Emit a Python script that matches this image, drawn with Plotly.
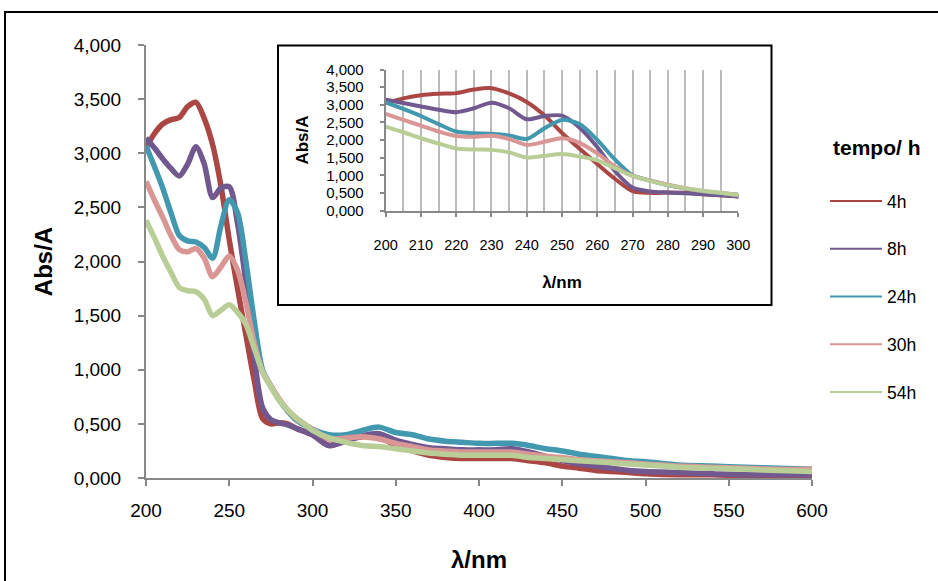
import plotly.graph_objects as go

# wavelengths (nm)
wavelength = [200, 205, 210, 215, 220, 225, 230, 235, 240, 245, 250, 255, 260, 265, 270,
              275, 280, 285, 290, 295, 300, 310, 320, 330, 340, 350, 360, 370, 380, 390,
              400, 410, 420, 430, 440, 450, 460, 470, 480, 490, 500, 520, 540, 560, 580, 600]

abs_4h = [3.05, 3.18, 3.27, 3.31, 3.33, 3.43, 3.47, 3.32, 3.08, 2.70, 2.20, 1.75, 1.32, 0.90, 0.55,
          0.50, 0.51, 0.50, 0.46, 0.43, 0.40, 0.30, 0.35, 0.38, 0.38, 0.30, 0.25, 0.21, 0.19, 0.18,
          0.18, 0.18, 0.18, 0.16, 0.14, 0.11, 0.09, 0.07, 0.06, 0.05, 0.04, 0.03, 0.03, 0.02, 0.02, 0.02]
abs_8h = [3.14, 3.05, 2.95, 2.86, 2.79, 2.90, 3.06, 2.90, 2.59, 2.68, 2.69, 2.35, 1.80, 1.12, 0.65,
          0.54, 0.51, 0.49, 0.46, 0.43, 0.40, 0.30, 0.34, 0.39, 0.41, 0.35, 0.31, 0.28, 0.27, 0.26,
          0.26, 0.26, 0.27, 0.24, 0.20, 0.16, 0.13, 0.11, 0.09, 0.07, 0.06, 0.05, 0.04, 0.03, 0.03, 0.03]
abs_24h = [3.07, 2.88, 2.68, 2.45, 2.24, 2.19, 2.18, 2.13, 2.03, 2.33, 2.57, 2.45, 2.00, 1.45, 1.00,
           0.85, 0.72, 0.62, 0.54, 0.49, 0.45, 0.40, 0.40, 0.44, 0.47, 0.42, 0.40, 0.36, 0.34, 0.33,
           0.32, 0.32, 0.32, 0.30, 0.27, 0.25, 0.22, 0.20, 0.18, 0.16, 0.15, 0.12, 0.11, 0.10, 0.09, 0.08]
abs_30h = [2.74, 2.57, 2.41, 2.24, 2.11, 2.09, 2.12, 2.03, 1.86, 1.95, 2.05, 1.92, 1.62, 1.25, 0.98,
           0.85, 0.73, 0.63, 0.55, 0.50, 0.45, 0.36, 0.37, 0.38, 0.36, 0.32, 0.29, 0.26, 0.25, 0.24,
           0.24, 0.24, 0.24, 0.22, 0.20, 0.19, 0.17, 0.16, 0.15, 0.14, 0.13, 0.11, 0.10, 0.09, 0.08, 0.08]
abs_54h = [2.38, 2.22, 2.05, 1.90, 1.76, 1.73, 1.72, 1.65, 1.50, 1.55, 1.60, 1.53, 1.42, 1.20, 0.98,
           0.84, 0.72, 0.63, 0.56, 0.50, 0.44, 0.37, 0.33, 0.30, 0.29, 0.27, 0.25, 0.23, 0.22, 0.21,
           0.21, 0.21, 0.21, 0.19, 0.18, 0.17, 0.16, 0.15, 0.14, 0.13, 0.12, 0.10, 0.09, 0.08, 0.07, 0.06]

series_names = ["4h", "8h", "24h", "30h", "54h"]
series_values = [abs_4h, abs_8h, abs_24h, abs_30h, abs_54h]
series_colors = ["#AA4643", "#71588F", "#4198AF", "#D99694", "#B9CD96"]

main_xticks = [200, 250, 300, 350, 400, 450, 500, 550, 600]
main_yticks = [0, 0.5, 1.0, 1.5, 2.0, 2.5, 3.0, 3.5, 4.0]
inset_xticks = [200, 210, 220, 230, 240, 250, 260, 270, 280, 290, 300]
legend_title = "<b>tempo/ h</b>"

FONT = "Liberation Sans, Arial, sans-serif"
W, H = 938, 581

fig = go.Figure()

# main traces
for name, vals, col in zip(series_names, series_values, series_colors):
    fig.add_trace(go.Scatter(x=wavelength, y=vals, mode="lines", name=name,
                             line=dict(color=col, width=5.5, shape="spline", smoothing=0.8),
                             showlegend=False, xaxis="x", yaxis="y"))
# inset traces
for name, vals, col in zip(series_names, series_values, series_colors):
    fig.add_trace(go.Scatter(x=wavelength, y=vals, mode="lines", name=name,
                             line=dict(color=col, width=4, shape="spline", smoothing=0.8),
                             showlegend=False, xaxis="x2", yaxis="y2"))
# legend entries
for name, col in zip(series_names, series_colors):
    fig.add_trace(go.Scatter(x=[None], y=[None], mode="lines", name=name,
                             line=dict(color=col, width=2), legendgroup=name,
                             showlegend=True, xaxis="x", yaxis="y"))

def px_x(p):
    return p / W

def px_y(p):
    return 1 - p / H

axis_grey = "#888888"

fig.update_layout(
    width=W, height=H,
    margin=dict(l=0, r=0, t=0, b=0, autoexpand=False),
    paper_bgcolor="white", plot_bgcolor="rgba(0,0,0,0)",
    separators=",.",
    font=dict(family=FONT, color="black"),
    xaxis=dict(domain=[px_x(146), px_x(812)], range=[200, 600], tickvals=main_xticks,
               automargin=False,
               showgrid=False, zeroline=False, showline=True, linecolor=axis_grey, linewidth=2,
               ticks="outside", ticklen=6, tickcolor=axis_grey, tickwidth=2,
               ticklabelstandoff=8, tickfont=dict(size=19, family=FONT),
               title=dict(text="<b>λ/nm</b>", font=dict(size=24, family=FONT), standoff=31),
               anchor="y"),
    yaxis=dict(domain=[px_y(478), px_y(45)], range=[0, 4.0], tickvals=main_yticks,
               tickformat=".3f", automargin=False,
               showgrid=False, zeroline=False, showline=True, linecolor=axis_grey, linewidth=2,
               ticks="outside", ticklen=6, tickcolor=axis_grey, tickwidth=2,
               ticklabelstandoff=13, tickfont=dict(size=19, family=FONT),
               title=dict(text="<b>Abs/A</b>", font=dict(size=24, family=FONT), standoff=14),
               anchor="x"),
    xaxis2=dict(domain=[px_x(385.7), px_x(738.3)], range=[200, 300], tickvals=inset_xticks,
                automargin=False,
                showgrid=True, gridcolor="#BBBBBB", gridwidth=1.5,
                minor=dict(dtick=5, showgrid=True, gridcolor="#BBBBBB", gridwidth=1.5, tick0=200),
                zeroline=False, showline=True, linecolor=axis_grey, linewidth=2,
                ticks="outside", ticklen=4, tickcolor=axis_grey, tickwidth=1.5,
                ticklabelstandoff=16, tickfont=dict(size=14.5, family=FONT),
                title=dict(text="<b>λ/nm</b>", font=dict(size=17, family=FONT), standoff=24),
                anchor="y2"),
    yaxis2=dict(domain=[px_y(210.5), px_y(69.5)], range=[0, 4.0], tickvals=main_yticks,
                tickformat=".3f", automargin=False,
                showgrid=False, zeroline=False, showline=True, linecolor=axis_grey, linewidth=2,
                ticks="outside", ticklen=4, tickcolor=axis_grey, tickwidth=1.5,
                ticklabelstandoff=13, tickfont=dict(size=15, family=FONT),
                title=dict(text="<b>Abs/A</b>", font=dict(size=17, family=FONT), standoff=13),
                anchor="x2"),
    legend=dict(x=px_x(825), y=px_y(183), xanchor="left", yanchor="top",
                bgcolor="rgba(0,0,0,0)", borderwidth=0,
                font=dict(size=17.5, family=FONT),
                tracegroupgap=22, itemwidth=52, traceorder="grouped"),
    annotations=[
        dict(text=legend_title, xref="paper", yref="paper", x=px_x(831), y=px_y(147),
             xanchor="left", yanchor="middle", showarrow=False,
             font=dict(size=21, family=FONT, color="black")),
    ],
    shapes=[
        # outer frame
        dict(type="rect", xref="paper", yref="paper",
             x0=px_x(5), x1=px_x(960), y0=px_y(600), y1=px_y(12),
             line=dict(color="black", width=2), fillcolor="rgba(0,0,0,0)", layer="below"),
        # inset frame
        dict(type="rect", xref="paper", yref="paper",
             x0=px_x(278), x1=px_x(771.5), y0=px_y(305), y1=px_y(45.5),
             line=dict(color="black", width=2), fillcolor="white", layer="below"),
    ],
)

fig.write_html("out.html")
